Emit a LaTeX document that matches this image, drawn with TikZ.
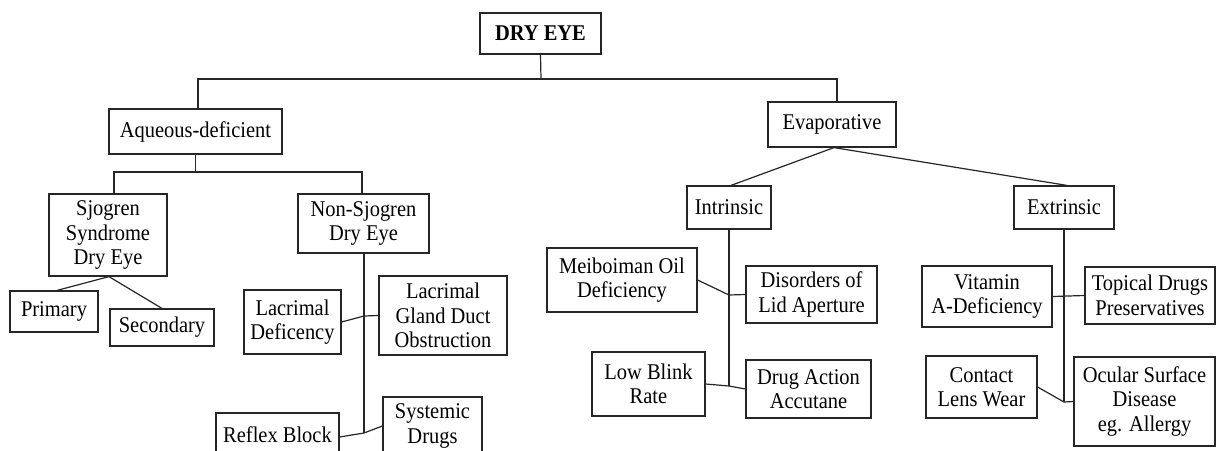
\documentclass[tikz,border=0pt]{standalone}
\usepackage{fontspec}
\setmainfont{Liberation Serif}[FakeStretch=0.91]
\begin{document}
\begin{tikzpicture}[x=1pt,y=-1pt,
  bx/.style={draw=black!85,line width=1.2pt,align=center,inner sep=0pt,
    font=\fontsize{22.5}{24.5}\selectfont},
  ln/.style={draw=black!85,line width=1.2pt}]
\useasboundingbox (0,0) rectangle (1226,450);
\clip (0,0) rectangle (1226,450);
\fill[white] (0,0) rectangle (1226,450);
% boxes
\node[bx,minimum width=121,minimum height=41,font=\fontsize{22.5}{24.5}\selectfont\bfseries] (dry) at (540.5,33.5) {DRY EYE};
\node[bx,minimum width=173,minimum height=45] (aq) at (195.5,131.5) {Aqueous-deficient};
\node[bx,minimum width=118,minimum height=82] (sj) at (108,235) {Sjogren\\Syndrome\\Dry Eye};
\node[bx,minimum width=131,minimum height=59] (ns) at (363.5,223.5) {Non-Sjogren\\Dry Eye};
\node[bx,minimum width=88,minimum height=41] (pr) at (54,311.5) {Primary};
\node[bx,minimum width=104,minimum height=37] (se) at (162,327.5) {Secondary};
\node[bx,minimum width=97,minimum height=64] (ld) at (292.5,322) {Lacrimal\\Deficency};
\node[bx,minimum width=128,minimum height=79] (lg) at (443,315.5) {Lacrimal\\Gland Duct\\Obstruction};
\node[bx,minimum width=123,minimum height=44] (rb) at (277.5,435) {Reflex Block};
\node[bx,minimum width=99,minimum height=58] (sd) at (432.5,426) {Systemic\\Drugs};
\node[bx,minimum width=128,minimum height=45] (ev) at (832,124.5) {Evaporative};
\node[bx,minimum width=84,minimum height=43] (in) at (729,207.5) {Intrinsic};
\node[bx,minimum width=100,minimum height=43] (ex) at (1064,207.5) {Extrinsic};
\node[bx,minimum width=150,minimum height=64] (mo) at (622,280) {Meiboiman Oil\\Deficiency};
\node[bx,minimum width=131,minimum height=57] (dl) at (811.5,294.5) {Disorders of\\Lid Aperture};
\node[bx,minimum width=113,minimum height=64] (lb) at (648.5,384) {Low Blink\\Rate};
\node[bx,minimum width=125,minimum height=58] (da) at (808.5,389) {Drug Action\\Accutane};
\node[bx,minimum width=130,minimum height=61] (vi) at (987,296.5) {Vitamin\\A-Deficiency};
\node[bx,minimum width=130,minimum height=57] (tp) at (1150,295.5) {Topical Drugs\\Preservatives};
\node[bx,minimum width=111,minimum height=62] (cl) at (981.5,387) {Contact\\Lens Wear};
\node[bx,minimum width=141,minimum height=89] (oc) at (1144.5,401.5) {Ocular Surface\\Disease\\eg. Allergy};
% junctions
\coordinate (j0) at (541,79);
\coordinate (j1) at (195.5,172);
\coordinate (jl) at (364,316);
\coordinate (jr) at (364,433);
\coordinate (ji1) at (729,295);
\coordinate (ji2) at (729,386);
\coordinate (je2) at (1064,402);
% connectors
\draw[ln] (dry.south) -- (j0);
\draw[ln] ([xshift=2.5]aq.north) |- (j0) -| ([xshift=5]ev.north);
\draw[ln] (aq.south) -- (j1);
\draw[ln] ([xshift=6]sj.north) |- (j1) -| ([xshift=-1.5]ns.north);
\draw[ln] ([xshift=1]sj.south) -- ([xshift=3]pr.north);
\draw[ln] ([xshift=1]sj.south) -- (se.north);
\draw[ln] ([xshift=0.5]ns.south) -- (jr);
\draw[ln] (ld.east) -- (jl) -- (lg.west);
\draw[ln] ([yshift=-2]rb.east) -- (jr) -- (sd.west);
\draw[ln] ([xshift=2]ev.south) -- ([xshift=2]in.north);
\draw[ln] ([xshift=2]ev.south) -- ([xshift=3]ex.north);
\draw[ln] (in.south) -- (ji2);
\draw[ln] (mo.east) -- (ji1) -- (dl.west);
\draw[ln] (lb.east) -- (ji2) -- (da.west);
\draw[ln] (ex.south) -- (je2);
\draw[ln] (vi.east) -- (tp.west);
\draw[ln] (cl.east) -- (je2) -- (oc.west);
\end{tikzpicture}
\end{document}
